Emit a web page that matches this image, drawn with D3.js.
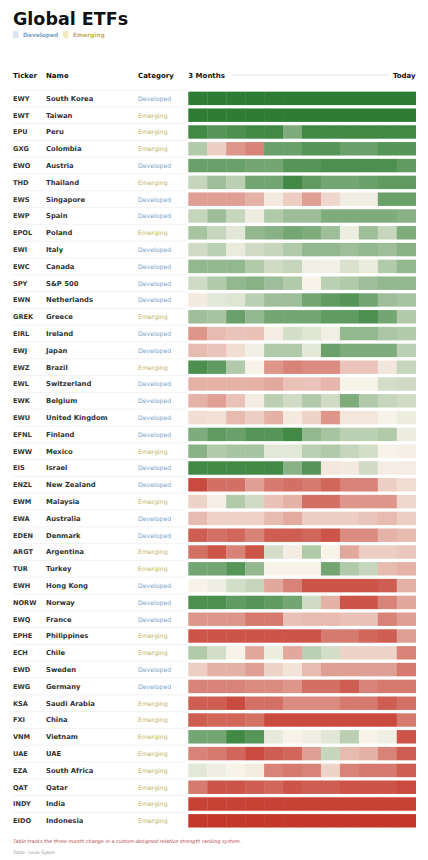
<!DOCTYPE html>
<html>
<head>
<meta charset="utf-8">
<script src="https://cdn.jsdelivr.net/npm/d3@7"></script>
<style>
  html, body { margin: 0; padding: 0; background: #ffffff; }
  svg { display: block; font-family: "DejaVu Sans", sans-serif; }
</style>
</head>
<body>
<svg id="chart" width="428" height="860"></svg>
<script>
// ---------- DATA ----------
const tickers = ["EWY","EWT","EPU","GXG","EWO","THD","EWS","EWP","EPOL","EWI","EWC","SPY","EWN","GREK","EIRL","EWJ","EWZ","EWL","EWK","EWU","EFNL","EWW","EIS","ENZL","EWM","EWA","EDEN","ARGT","TUR","EWH","NORW","EWQ","EPHE","ECH","EWD","EWG","KSA","FXI","VNM","UAE","EZA","QAT","INDY","EIDO"];
const names = ["South Korea","Taiwan","Peru","Colombia","Austria","Thailand","Singapore","Spain","Poland","Italy","Canada","S&P 500","Netherlands","Greece","Ireland","Japan","Brazil","Switzerland","Belgium","United Kingdom","Finland","Mexico","Israel","New Zealand","Malaysia","Australia","Denmark","Argentina","Turkey","Hong Kong","Norway","France","Philippines","Chile","Sweden","Germany","Saudi Arabia","China","Vietnam","UAE","South Africa","Qatar","India","Indonesia"];
const categories = ["Developed","Emerging","Emerging","Emerging","Developed","Emerging","Developed","Developed","Emerging","Developed","Developed","Developed","Developed","Emerging","Developed","Developed","Emerging","Developed","Developed","Developed","Developed","Emerging","Developed","Developed","Emerging","Developed","Developed","Emerging","Emerging","Developed","Developed","Developed","Emerging","Emerging","Developed","Developed","Emerging","Emerging","Emerging","Emerging","Emerging","Emerging","Emerging","Emerging"];
const periods = ["W1","W2","W3","W4","W5","W6","W7","W8","W9","W10","W11","W12"];
// relative strength score per week (-10 weakest ... +10 strongest)
const scores = [
  [10,10,10,10,10,10,10,10,10,10,10,10],
  [10,10,10,10,10,10,10,10,10,10,10,10],
  [9,8,8.5,9,9,6,9,9,9,9,9,9],
  [3.5,-2,-5,-6,7,7,8,8,7,7,8,8],
  [7,7,7,6.5,6.5,8,8,8.5,8.5,8.5,8.5,7.5],
  [2.5,4.5,3,6.5,6.5,9,7.5,6.5,6.5,7,7.5,7.5],
  [-4.5,-4.5,-4.5,-3.5,-0.5,-2,-4.5,-1.5,0.3,0.3,7,7],
  [2.5,4.5,2.5,0.5,3.5,4.5,4.5,6,6,6,6,5.5],
  [4,2.5,1,5,5.5,6.5,6,4.5,0.5,4.5,2.5,6],
  [2,3,0.7,2,2.5,3.5,5,5,4.5,5,4.5,5.5],
  [5,5,5,3.5,2,2.5,0.3,0.2,1.5,0.7,3.5,5],
  [2,3.5,5,5.5,4.5,3.5,0,3,3.5,4.5,5,5],
  [-0.5,1,1.2,3,4.5,4.5,6.5,7.5,8,6.5,4.5,4],
  [4.5,4,7,5,6.5,6.5,6.5,7.5,7.5,8.5,6.5,3.5],
  [-5,-3,-2.5,-2.7,-0.3,1.8,1.2,0.3,5,5,3.8,3.5],
  [-3,-2.5,-1.2,0.3,3.5,3.5,1,7,6,6,6,3],
  [8.5,7.5,3.5,0,-5,-6,-5.5,-5.5,-2.5,-2.5,-0.7,2.5],
  [-3.5,-3.5,-3.5,-3.5,-4,-2.7,-2.5,-3.3,0,0,1.8,2],
  [-3.5,-4.5,-2.7,-0.3,3,2,3.5,2,6,3.5,2.5,2],
  [-1.2,-1,-3,-2,-3.5,-0.5,-1.7,-5,-0.7,-0.7,0,0.5],
  [6,7.5,7,8,8,9,5,4,3,3,3.5,0.5],
  [5.5,3.5,4,4,1,1,3,3.5,2.5,1.8,0,-0.2],
  [9,9,9,9,9,5.5,8,-0.7,-0.5,2,-0.3,-0.3],
  [-9,-7,-7,-4.5,-6.5,-7,-6.5,-7.5,-6,-6,-2,-1.2],
  [-1.7,-0.2,3.5,2,-2.7,-3.5,-7,-7,-5,-5,-5,-1.5],
  [-3,-1.8,-1.8,-1.8,-3,-3.8,-2,-2,-2,-2.5,-3,-2],
  [-8,-7,-7.5,-6,-8,-8,-7.5,-8.5,-5.5,-5.5,-3.5,-3],
  [-7,-8.5,-6,-8.5,1.8,-0.3,3.5,0,-4,-2,-2,-2.3],
  [6.5,6.5,8,5,0,0,0,6.5,3.5,2.5,-3,-3.5],
  [0,0.4,1.8,2.5,-4,-6,-8.5,-8.5,-8.5,-8.5,-8,-3.5],
  [8.5,8.5,7.5,8,7.5,6.5,2,-3.5,-8.5,-8.5,-6,-4],
  [-5,-5,-5,-6.5,-6.5,-2.7,-3,-3,-2.7,-2.7,-6,-4.5],
  [-8.5,-8.5,-8.5,-8.5,-8.5,-8.5,-8.5,-6.5,-6.5,-7.5,-8,-4.5],
  [3.5,1.8,0,-4,0.5,-4,3,1.8,-1.7,-1.7,-1.7,-6],
  [-2,-3.5,-3.5,-4.5,-1.7,-0.8,-3,-4.5,-4.5,-4.5,-4.5,-6.5],
  [-6,-6,-6,-5.5,-5.5,-5,-7,-7,-8,-6,-6.5,-6.5],
  [-8,-8,-9,-7,-7,-5.5,-5.5,-5.5,-6.5,-6.5,-8,-7],
  [-8,-7.5,-7.5,-7,-9,-9,-9,-9,-9,-9,-9,-6.5],
  [6.5,6.5,9,8,0.8,0,0.3,1,3,0,0.3,-8.5],
  [-6,-6.5,-7.5,-9,-8,-7.5,-4.5,2.5,-3,-3.5,-6,-8],
  [1,0.4,0,-0.4,-6,-6.5,-6,-1.7,-6,-6.5,-6.5,-8],
  [-6.5,-8.5,-8.5,-8,-7.5,-8.5,-8,-8,-8.5,-8.5,-8.5,-9],
  [-9.5,-9.5,-9.5,-9.5,-9.5,-9.5,-9.5,-9.5,-9.5,-9.5,-9.5,-9.5],
  [-10,-10,-10,-10,-10,-10,-10,-10,-10,-10,-10,-10]
];
const legendItems = ["Developed","Emerging"];
const headers = ["Ticker","Name","Category"];
const axisLabels = ["3 Months","Today"];
const note = "Table tracks the three-month change in a custom-designed relative strength ranking system.";
const credit = "Table: Louis Sykes";

// ---------- RENDER ----------
const svg = d3.select("#chart");
const catColor = d3.scaleOrdinal().domain(legendItems).range(["#7ba3c9", "#c2b163"]);
const catSwatch = d3.scaleOrdinal().domain(legendItems).range(["#d9e6f2", "#f1ebbc"]);
const color = d3.scaleLinear()
  .domain([-10, 0, 10])
  .range(["#c4382c", "#f7f3e9", "#2e7d34"])
  .interpolate(d3.interpolateRgb)
  .clamp(true);

// title
svg.append("text").attr("x", 13).attr("y", 25)
  .attr("font-size", 17.5).attr("font-weight", "bold").attr("fill", "#111")
  .text("Global ETFs");

// legend
const legX = d3.scaleOrdinal().domain(legendItems).range([13, 63]);
const leg = svg.append("g").selectAll("g").data(legendItems).join("g")
  .attr("transform", d => `translate(${legX(d)},31)`);
leg.append("rect").attr("width", 5.5).attr("height", 7).attr("fill", d => catSwatch(d));
leg.append("text").attr("x", 10).attr("y", 6).attr("font-size", 5.9).attr("font-weight", "bold")
  .attr("fill", d => catColor(d)).text(d => d);

// layout scales
const y = d3.scaleBand().domain(tickers).range([88.3, 830.9]).paddingInner(0.2).paddingOuter(0.2);
const x = d3.scaleBand().domain(periods).range([188.3, 415.7]).padding(0);
const colX = d3.scaleOrdinal().domain(headers).range([13, 46, 138]);

// header
svg.append("g").selectAll("text").data(headers).join("text")
  .attr("x", d => colX(d)).attr("y", 77.5)
  .attr("font-size", 7).attr("font-weight", "bold").attr("fill", "#111")
  .text(d => d);
svg.append("text").attr("x", x.range()[0]).attr("y", 77.5)
  .attr("font-size", 7).attr("font-weight", "bold").attr("fill", "#111").text(axisLabels[0]);
svg.append("text").attr("x", x.range()[1]).attr("y", 77.5).attr("text-anchor", "end")
  .attr("font-size", 7).attr("font-weight", "bold").attr("fill", "#111").text(axisLabels[1]);
svg.append("line").attr("x1", 232).attr("x2", 389).attr("y1", 75).attr("y2", 75)
  .attr("stroke", "#dddddd").attr("stroke-width", 0.8);

// row separators
const step = y.step();
svg.append("g").selectAll("line").data(tickers).join("line")
  .attr("x1", 13).attr("x2", 186)
  .attr("y1", d => y(d) - (step - y.bandwidth()) / 2)
  .attr("y2", d => y(d) - (step - y.bandwidth()) / 2)
  .attr("stroke", "#ececec").attr("stroke-width", 0.7);

// row texts
const rows = svg.append("g").selectAll("g").data(tickers).join("g")
  .attr("transform", d => `translate(0,${y(d) + y.bandwidth() / 2 + 2.4})`);
rows.append("text").attr("x", colX("Ticker")).attr("font-size", 6.6).attr("font-weight", "bold")
  .attr("fill", "#333").text(d => d);
rows.append("text").attr("x", colX("Name")).attr("font-size", 6.8).attr("font-weight", "bold")
  .attr("fill", "#333").text((d, i) => names[i]);
rows.append("text").attr("x", colX("Category")).attr("font-size", 6.2)
  .attr("fill", (d, i) => catColor(categories[i])).text((d, i) => categories[i]);

// heatmap cells
const cells = [];
tickers.forEach((t, i) => periods.forEach((p, j) => cells.push({ t, p, v: scores[i][j] })));
svg.append("g").selectAll("rect").data(cells).join("rect")
  .attr("x", d => x(d.p)).attr("y", d => y(d.t))
  .attr("width", x.bandwidth() + 0.3).attr("height", y.bandwidth())
  .attr("fill", d => color(d.v));

// footer
svg.append("text").attr("x", 13).attr("y", 843).attr("font-size", 4.9).attr("font-style", "italic")
  .attr("fill", "#b5474a").text(note);
svg.append("text").attr("x", 13).attr("y", 854).attr("font-size", 4.6)
  .attr("fill", "#999").text(credit);
</script>
</body>
</html>
